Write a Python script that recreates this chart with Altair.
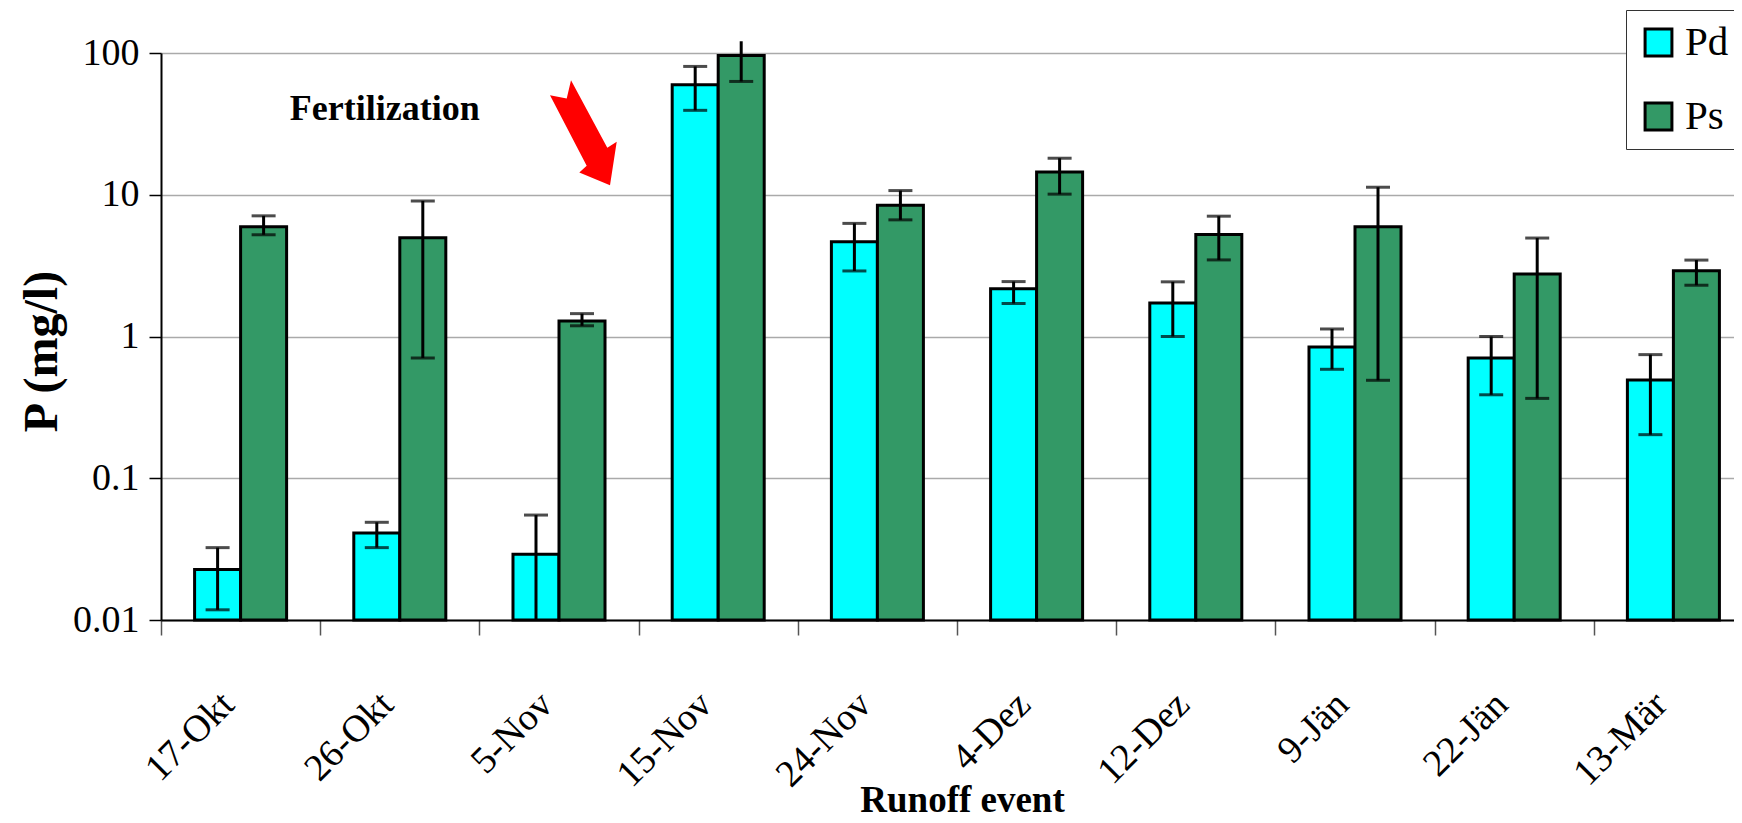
import altair as alt
import pandas as pd

cats = ["17-Okt", "26-Okt", "5-Nov", "15-Nov", "24-Nov", "4-Dez", "12-Dez", "9-Jän", "22-Jän", "13-Mär"]
series = ["Pd", "Ps"]
pd_vals = [0.0227, 0.0411, 0.0291, 59.8, 4.66, 2.17, 1.72, 0.844, 0.706, 0.494]
pd_lo = [0.0118, 0.0324, 0.01, 39.4, 2.90, 1.71, 1.0, 0.587, 0.388, 0.203]
pd_hi = [0.0324, 0.0489, 0.0550, 80.4, 6.28, 2.44, 2.43, 1.13, 1.0, 0.745]
ps_vals = [5.94, 4.97, 1.285, 96.0, 8.44, 14.5, 5.25, 5.94, 2.76, 2.91]
ps_lo = [5.22, 0.706, 1.19, 63.0, 6.65, 10.1, 3.47, 0.491, 0.366, 2.30]
ps_hi = [7.1, 9.05, 1.45, 121.0, 10.7, 18.1, 7.06, 11.3, 4.95, 3.46]
y_ticks = [0.01, 0.1, 1, 10, 100]
colors = ["#00FFFF", "#339966"]

rows = []
for i, c in enumerate(cats):
    rows.append({"cat": c, "series": "Pd", "value": pd_vals[i], "lo": pd_lo[i], "hi": pd_hi[i], "base": 0.01})
    rows.append({"cat": c, "series": "Ps", "value": ps_vals[i], "lo": ps_lo[i], "hi": ps_hi[i], "base": 0.01})
df = pd.DataFrame(rows)

FONT = "Liberation Serif"
STEP = 159.2

xscale = alt.Scale(domain=cats, range=[0, 1592], paddingInner=0.422, paddingOuter=0.211)
yscale = alt.Scale(type="log", domain=[0.01, 100], nice=False)

xaxis = alt.Axis(
    title="Runoff event", titleFont=FONT, titleFontSize=37, titleFontWeight="bold",
    titleX=801, titleY=191, titleBaseline="alphabetic", titleColor="black",
    labelAngle=-45, labelFont=FONT, labelFontSize=38, labelPadding=50, labelColor="black",
    tickOffset=-STEP / 2, labelOffset=STEP / 2 - 26,
    tickSize=15, tickColor="#555555", tickWidth=1.5,
    domainColor="black", domainWidth=2, grid=False,
)
yaxis = alt.Axis(
    title="P  (mg/l)", titleFont=FONT, titleFontSize=48, titleFontWeight="bold", titleColor="black",
    titleX=-119, titleY=298, titleAlign="center", titleBaseline="middle", titleAngle=-90,
    values=y_ticks, format=".2~f", labelFont=FONT, labelFontSize=38, labelPadding=10,
    labelColor="black", tickSize=12, tickColor="black", tickWidth=1.5,
    domainColor="black", domainWidth=2, grid=True, gridColor="#aaaaaa", gridWidth=1.5,
)

base = alt.Chart(df).encode(
    x=alt.X("cat:N", sort=cats, scale=xscale, axis=xaxis),
    xOffset=alt.XOffset("series:N", sort=series),
)

bars = base.mark_bar(stroke="black", strokeWidth=3).encode(
    y=alt.Y("value:Q", scale=yscale, axis=yaxis),
    y2="base:Q",
    color=alt.Color(
        "series:N", sort=series,
        scale=alt.Scale(domain=series, range=colors),
        legend=alt.Legend(
            title=None, orient="none", legendX=1465, legendY=-43,
            symbolType="square", symbolSize=720, symbolStrokeColor="black", symbolStrokeWidth=3,
            labelFont=FONT, labelFontSize=41, labelColor="black",
            strokeColor="#333333", fillColor="white", padding=12, rowPadding=32,
            labelOffset=6,
        ),
    ),
)

rules = base.mark_rule(color="black", strokeWidth=3).encode(
    y=alt.Y("lo:Q", scale=yscale), y2="hi:Q"
)
caps_hi = base.transform_filter("datum.hi < 100").mark_tick(
    color="black", thickness=3, size=24
).encode(y=alt.Y("hi:Q", scale=yscale))
caps_lo = base.transform_filter("datum.lo > 0.01").mark_tick(
    color="black", thickness=3, size=24
).encode(y=alt.Y("lo:Q", scale=yscale))

annot_df = pd.DataFrame({"cat": ["26-Okt"], "value": [40.0], "text": ["Fertilization"]})
annot = alt.Chart(annot_df).mark_text(
    font=FONT, fontSize=36, fontWeight="bold", color="black", dx=-15
).encode(
    x=alt.X("cat:N", sort=cats, scale=xscale),
    y=alt.Y("value:Q", scale=yscale),
    text="text:N",
)

arrow_path = ("M -0.6 -0.678 L -0.296 -0.618 L -0.218 -0.951 L 0.442 0.278 "
              "L 0.613 0.169 L 0.491 0.958 L -0.067 0.727 L 0.067 0.605 Z")
arrow_df = pd.DataFrame({"cat": ["5-Nov"], "value": [27.5]})
arrow = alt.Chart(arrow_df).mark_point(
    shape=arrow_path, size=12100, filled=True, color="#FF0000", opacity=1, strokeWidth=0, xOffset=24
).encode(
    x=alt.X("cat:N", sort=cats, scale=xscale),
    y=alt.Y("value:Q", scale=yscale),
)

chart = alt.layer(bars, rules, caps_hi, caps_lo, annot, arrow).properties(
    width=1573, height=567,
    autosize=alt.AutoSizeParams(type="none"),
    padding={"left": 153, "top": 45, "right": 0, "bottom": 200},
).configure(background="white", font=FONT).configure_view(stroke=None)

chart.save("out.html", embed_options={"renderer": "svg", "actions": False})
